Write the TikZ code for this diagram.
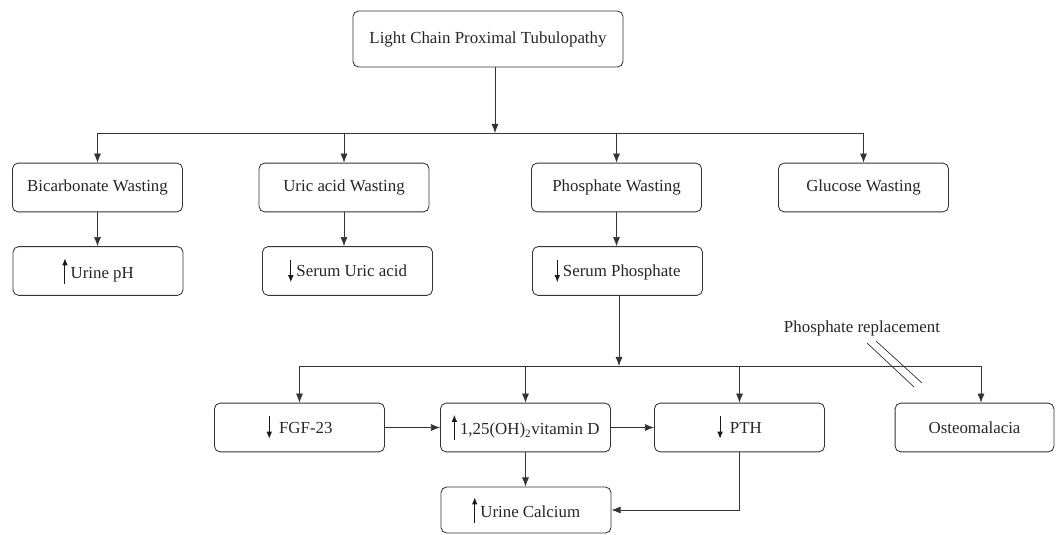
\documentclass[tikz,border=0pt]{standalone}
\usepackage{fontspec}
\setmainfont{Liberation Serif}
\usepackage{tikz}
\usetikzlibrary{arrows,arrows.meta,shapes,positioning}
\tikzset{
	basic/.style= {draw=black!80, rectangle, rounded corners=4pt, line width=0.6pt, align=center, text=black!85,
		minimum width=4.25cm, minimum height=1.22cm, inner sep=2pt},
	root/.style = {basic, minimum width=6.75cm, minimum height=1.4cm},
	wide/.style = {basic, minimum width=3.97cm},
	link/.style = {draw=black!80, line width=0.5pt},
	tip/.style = {-{Latex[length=6.5pt,width=5pt]}}
}
\newcommand{\uparr}{\tikz[baseline=0pt]\draw[-{Latex[length=5pt,width=4pt]}, black!90, line width=0.7pt] (0,-4pt) -- (0,14pt);\,}
\newcommand{\downarr}{\tikz[baseline=0pt]\draw[-{Latex[length=5pt,width=4pt]}, black!90, line width=0.7pt] (0,12pt) -- (0,-4pt);\,}

\begin{document}
\begin{tikzpicture}[x=0.025cm, y=-0.025cm,
		font=\fontsize{12}{14}\selectfont]
	\useasboundingbox (0,0) rectangle (1056,534);
	% top
	\node[root] (lcpt) at (488,39) {Light Chain Proximal Tubulopathy};
	\coordinate (j1) at (495,133);
	% wasting
	\node[basic] (bic) at (97.5,187.5) {Bicarbonate Wasting};
	\node[basic] (uric) at (344,187.5) {Uric acid Wasting};
	\node[basic] (phos) at (616.5,187.5) {Phosphate Wasting};
	\node[basic] (glu) at (863.5,187.5) {Glucose Wasting};
	% serum / urine
	\node[basic] (uph) at (98,271) {\uparr Urine pH};
	\node[basic] (suric) at (347.5,271) {\downarr Serum Uric acid};
	\node[basic] (sphos) at (617.5,271) {\downarr Serum Phosphate};
	\coordinate (j2) at (619,366);
	% consequences
	\node[basic] (fgf) at (299.5,427.5) {\downarr\ FGF-23};
	\node[basic] (vitd) at (525.5,427.5) {\uparr 1,25(OH)\textsubscript{2}vitamin D};
	\node[basic] (pth) at (739.5,427.5) {\downarr\ PTH};
	\node[wide] (osteo) at (974.5,427.5) {Osteomalacia};
	\coordinate (ob) at (981,366);
	\node[basic, minimum height=1.15cm] (uca) at (526,510) {\uparr Urine Calcium};
	\node[text=black!85] (repl) at (862,328) {Phosphate replacement};

	\draw[link,tip] (lcpt.south -| j1) -- (j1);
	\draw[link] (bic |- j1) -- (glu |- j1);
	\foreach \n in {bic,uric,phos,glu}
		\draw[link,tip] (\n |- j1) -- (\n.north);
	\draw[link,tip] (bic) -- (bic |- uph.north);
	\draw[link,tip] (uric) -- (uric |- suric.north);
	\draw[link,tip] (phos) -- (phos |- sphos.north);
	\draw[link,tip] (sphos.south -| j2) -- (j2);
	\draw[link] (fgf |- j2) -- (ob);
	\foreach \n in {fgf,vitd,pth}
		\draw[link,tip] (\n |- j2) -- (\n.north);
	\draw[link,tip] (ob) -- (ob |- osteo.north);
	\draw[link,tip] (fgf) -- (vitd);
	\draw[link,tip] (vitd) -- (pth);
	\draw[link,tip] (vitd) -- (vitd |- uca.north);
	\draw[link,tip] (pth.south) |- (uca.east);
	% blocked
	\draw[link] (867,343) -- (914,387);
	\draw[link] (876,341) -- (922,383);
\end{tikzpicture}
\end{document}
